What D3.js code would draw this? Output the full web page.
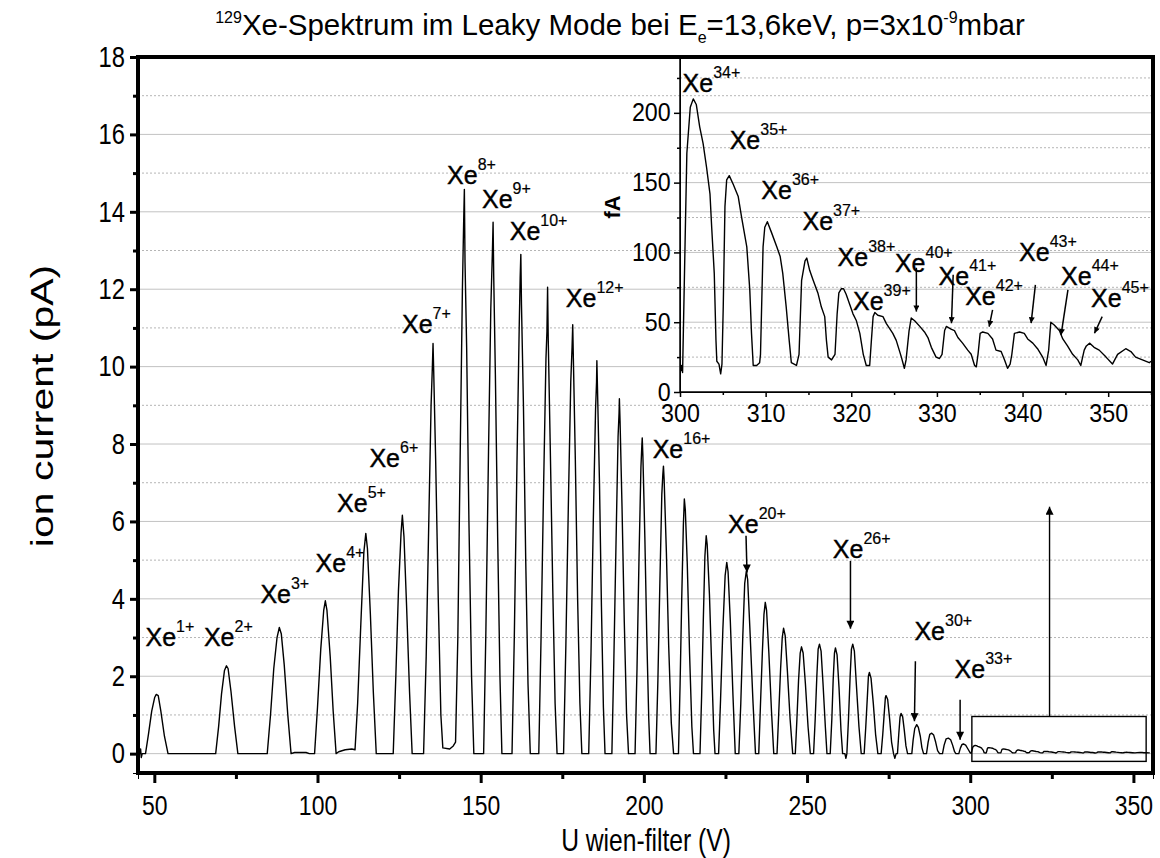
<!DOCTYPE html>
<html>
<head>
<meta charset="utf-8">
<script src="https://cdn.jsdelivr.net/npm/d3@7"></script>
<style>
body { margin: 0; background: #fff; }
text { font-family: Arial, "Liberation Sans", sans-serif; fill: #000; }
</style>
</head>
<body>
<svg width="1160" height="858"></svg>
<script>
// main spectrum, U (V) vs ion current (pA), 45..300 V
var mainSpectrum = [
  [45.0,0],[45.6,0],[45.8,0.12],[46.0,-0.1],[46.3,0],[47.3,0],
  [48.2,0.5],[49.2,1.1],[50.1,1.45],[50.6,1.53],[51.2,1.5],[52.0,1.1],[53.1,0.45],[54.2,0],
  [68.8,0],[69.7,0.7],[70.6,1.55],[71.5,2.15],[72.1,2.27],[72.6,2.2],[73.5,1.6],[74.6,0.7],[75.6,0],
  [84.6,0],[85.6,1.0],[86.6,2.2],[87.6,3.0],[88.3,3.26],[88.9,3.1],[89.8,2.3],[90.9,1.0],[91.9,0],
  [93.0,0.03],[96.5,0.03],[97.5,0],
  [99.1,0],[100.0,1.2],[101.0,2.7],[101.9,3.7],[102.4,3.95],[102.9,3.7],[103.9,2.5],[104.8,1.1],[105.7,0],
  [106.5,0.05],[108.5,0.1],[110.5,0.12],[111.5,0.1],
  [112.3,1.3],[113.3,3.4],[114.2,5.2],[114.8,5.69],[115.3,5.3],[116.2,3.6],[117.1,1.6],[118.0,0],
  [123.2,0],[124.0,2.0],[124.8,4.2],[125.6,5.7],[126.0,6.16],[126.5,5.6],[127.3,3.8],[128.2,1.6],[129.0,0],
  [132.5,0],[133.3,2.5],[134.1,6.0],[134.8,9.0],[135.2,10.0],[135.4,10.6],[135.6,9.9],[136.2,7.6],[137.0,4.0],[137.8,1.0],[138.4,0.15],[140.5,0.12],[141.6,0.2],
  [142.3,0.3],[143.0,3.0],[143.7,7.6],[144.4,12.0],[144.8,13.8],[145.0,14.58],[145.2,12.7],[145.7,10.5],[146.4,6.0],[147.2,2.0],[147.9,0],
  [150.6,0],[150.9,0],[151.6,3.2],[152.4,7.8],[153.1,11.5],[153.6,13.0],[153.8,13.73],[154.0,12.3],[154.5,9.8],[155.2,5.6],[155.9,2.0],[156.5,0],
  [159.3,0],[159.6,0],[160.3,3.0],[161.1,7.4],[161.8,11.0],[162.1,12.3],[162.3,12.9],[162.5,11.6],[163.1,9.0],[163.8,5.0],[164.5,1.8],[165.2,0],
  [167.5,0],[167.8,0],[168.5,3.0],[169.3,7.0],[170.0,10.2],[170.3,10.9],[170.5,12.05],[170.7,10.7],[171.3,8.0],[172.1,4.2],[172.8,1.3],[173.4,0],
  [175.2,0],[175.4,0],[176.1,2.8],[176.9,6.6],[177.6,9.6],[178.0,10.5],[178.2,11.08],[178.4,10.2],[179.0,7.6],[179.7,4.0],[180.4,1.3],[181.0,0],
  [182.8,0],[183.1,0],[183.8,2.6],[184.5,6.0],[185.2,8.9],[185.5,9.6],[185.6,10.15],[185.8,9.4],[186.4,7.0],[187.0,3.8],[187.6,1.2],[188.1,0],
  [189.9,0],[190.2,0],[190.8,2.4],[191.5,5.6],[192.1,8.2],[192.4,8.8],[192.5,9.17],[192.7,8.6],[193.3,6.4],[194.0,3.4],[194.7,1.0],[195.3,0],
  [197.0,0],[197.3,0],[197.9,2.2],[198.5,5.0],[199.1,7.4],[199.4,8.0],[199.5,8.16],[199.7,7.7],[200.3,5.6],[200.9,3.0],[201.5,0.9],[201.9,0],
  [203.4,0],[203.7,0],[204.3,1.9],[204.9,4.4],[205.5,6.7],[205.8,7.2],[206.0,7.43],[206.2,7.1],[206.9,5.2],[207.6,2.8],[208.4,0.8],[209.1,0],
  [210.3,0],[210.6,0],[211.1,1.8],[211.6,4.0],[212.1,5.9],[212.4,6.58],[212.7,6.3],[213.3,4.9],[214.0,2.6],[214.7,0.7],[215.2,0],
  [216.9,0],[217.2,0],[217.7,1.5],[218.2,3.4],[218.7,5.1],[219.1,5.63],[219.4,5.4],[220.1,4.1],[220.8,2.2],[221.4,0.6],[221.8,0],
  [222.6,0],[222.9,0],[223.5,1.4],[224.2,3.2],[224.9,4.6],[225.4,4.94],[225.8,4.7],[226.5,3.4],[227.3,1.5],[228.0,0],
  [228.8,0],[229.1,0],[229.7,1.3],[230.3,3.0],[230.9,4.4],[231.4,4.72],[231.8,4.5],[232.5,3.2],[233.4,1.4],[234.2,0],
  [234.9,0],[235.2,0],[235.7,1.2],[236.3,2.6],[236.8,3.6],[237.2,3.91],[237.6,3.7],[238.3,2.6],[239.1,1.1],[239.8,0],
  [240.5,0],[240.8,0],[241.3,1.0],[241.9,2.2],[242.4,3.0],[242.8,3.24],[243.3,3.05],[244.0,2.1],[244.8,0.9],[245.6,0],
  [246.1,0],[246.4,0],[246.9,0.9],[247.4,1.9],[247.9,2.6],[248.3,2.76],[248.8,2.6],[249.5,1.8],[250.3,0.7],[251.0,0],
  [251.7,0],[252.0,0],[252.5,0.9],[253.0,2.0],[253.4,2.7],[253.8,2.83],[254.3,2.65],[254.9,1.8],[255.6,0.7],[256.1,0],
  [256.8,0],[257.1,0],[257.6,0.9],[258.0,1.9],[258.4,2.6],[258.7,2.73],[259.2,2.55],[259.8,1.7],[260.4,0.6],[260.9,0],
  [261.6,0],[261.9,-0.12],[262.2,0],[262.7,0.9],[263.2,2.0],[263.6,2.7],[264.0,2.83],[264.5,2.65],[265.1,1.8],[265.9,0.7],[266.6,0],
  [267.2,0],[267.5,0],[268.0,0.7],[268.5,1.5],[268.8,2.0],[269.1,2.1],[269.6,1.95],[270.3,1.3],[271.0,0.5],[271.7,0],
  [272.4,0],[272.7,0],[273.2,0.5],[273.7,1.1],[274.0,1.45],[274.2,1.5],[274.7,1.4],[275.3,0.9],[275.9,0.3],[276.5,0],[276.9,-0.12],[277.3,0],
  [277.7,0],[278.1,0.5],[278.5,0.95],[278.8,1.04],[279.3,0.95],[279.8,0.6],[280.3,0.2],[280.8,0],
  [281.7,0],[282.1,0],[282.5,0.35],[283.0,0.65],[283.6,0.75],[284.1,0.68],[284.7,0.45],[285.2,0.15],[285.7,0],
  [286.3,0],[286.6,0],[287.1,0.3],[287.6,0.5],[288.2,0.53],[288.8,0.48],[289.4,0.3],[290.0,0.08],[290.6,0],
  [291.2,0],[291.5,0],[292.0,0.22],[292.6,0.38],[293.3,0.4],[294.0,0.36],[294.6,0.22],[295.2,0.05],[295.6,0],
  [296.2,0],[296.5,0],[297.0,0.15],[297.5,0.24],[297.9,0.25],[298.6,0.22],[299.3,0.12],[300.0,0.02]
];

// inset spectrum, U (V) vs current (fA), 300..355 V
var insetSpectrum = [
  [300.1,15],[300.2,19],[300.3,14],[300.6,109],[300.8,171],[301.2,204],[301.55,210],[301.9,206],[302.3,190],[302.7,178],
  [303.1,161],[303.5,142],[303.7,118],[304.0,85],[304.2,37],[304.3,22],[304.55,20],[304.75,13],[304.9,20],[305.05,61],
  [305.25,133],[305.45,152],[305.75,155],[306.2,149],[306.8,140],[307.2,125],[307.8,104],[308.15,73],[308.35,42],[308.55,19],
  [308.95,19],[309.3,21],[309.4,27],[309.7,104],[309.9,118],[310.2,122],[310.7,114],[311.3,104],[311.7,97],[312.0,85],
  [312.4,61],[312.75,37],[313.0,21],[313.6,19],[313.9,27],[314.2,80],[314.6,94],[314.8,96],[315.15,87],[315.55,80],
  [316.1,71],[316.5,61],[316.9,54],[317.1,37],[317.3,25],[317.7,23],[318.1,27],[318.35,56],[318.55,71],[318.85,74],
  [319.1,74],[319.4,70],[319.8,63],[320.2,56],[320.6,51],[321.0,42],[321.4,27],[321.75,19],[322.15,19],[322.35,37],
  [322.55,54],[322.75,57],[323.1,55],[323.7,54],[324.1,49],[324.85,42],[325.25,37],[325.85,25],[326.2,17],[326.4,23],
  [326.75,44],[327.0,53],[327.4,51],[328.0,47],[328.55,43],[328.95,39],[329.35,32],[329.9,25],[330.3,24],[330.6,27],
  [330.9,44],[331.1,47],[331.65,45],[332.05,44],[332.45,39],[333.0,35],[333.6,30],[334.0,27],[334.4,19],[334.6,18],
  [334.8,27],[335.05,42],[335.35,43],[335.95,42],[336.5,38],[336.9,30],[337.5,29],[337.9,23],[338.25,17],[338.55,20],
  [338.75,27],[339.05,42],[339.65,43],[340.2,42],[340.6,38],[341.2,35],[341.75,31],[342.35,25],[342.75,19],[343.05,30],
  [343.3,50],[343.7,48],[344.3,44],[344.7,38],[345.25,33],[345.85,27],[346.45,23],[346.8,19],[347.2,30],[347.45,33],
  [347.85,35],[348.35,32],[348.95,30],[349.75,25],[350.5,20],[351.1,27],[352.05,31],[352.65,29],[353.2,25],[354.0,23],
  [354.8,21],[355.0,22]
];

var mainXTicks = [50, 100, 150, 200, 250, 300, 350],
    mainXMinor = [75, 125, 175, 225, 275, 325],
    mainYTicks = [0, 2, 4, 6, 8, 10, 12, 14, 16, 18],
    mainYMinor = [1, 3, 5, 7, 9, 11, 13, 15, 17],
    insetXTicks = [300, 310, 320, 330, 340, 350],
    insetXMinor = [305, 315, 325, 335, 345, 355],
    insetYTicks = [0, 50, 100, 150, 200],
    insetYMinor = [25, 75, 125, 175, 225];

// peak labels: charge state, U, current where the label sits
var mainLabels = [
  ["1+",47.3,2.79],["2+",65.2,2.79],["3+",82.5,3.89],["4+",99.4,4.69],["5+",106.0,6.24],
  ["6+",115.9,7.40],["7+",125.9,10.86],["8+",139.7,14.71],["9+",150.4,14.11],["10+",158.9,13.26],
  ["12+",176.1,11.54],["16+",202.7,7.63],["20+",225.8,5.71],["26+",257.9,5.05],["30+",282.9,2.94],["33+",295.2,1.95]
];
var insetLabels = [
  ["34+",300.3,215],["35+",305.8,174],["36+",309.5,138],["37+",314.3,116],["38+",318.4,90],["39+",320.2,59],
  ["40+",325.1,86],["41+",330.2,77],["42+",333.3,62],["43+",339.6,93.5],["44+",344.5,77],["45+",348.0,61]
];
// arrows: U start, I start, U end, I end
var mainArrows = [[231.3,5.63,231.6,4.68],[263.3,4.98,263.3,3.23],[283.2,2.39,282.9,0.84],[296.9,1.39,296.9,0.36]];
var insetArrows = [
  [327.6,89,327.6,57.6],[331.9,84,331.7,49.3],[336.5,58.8,336.1,46.8],
  [341.5,76.8,341.0,49.3],[345.3,73.2,344.5,40.9],[349.3,54,348.4,42.1]
];
var zoomBox = {u0: 300.5, u1: 353.9, i0: -0.2, i1: 0.96},
    zoomArrow = {u: 324.3, i0: 0.96, i1: 6.38};

var svg = d3.select("svg"),
    mL = 138, mR = 1153, mT = 57, mB = 773;

var x = d3.scaleLinear().domain([45, 356]).range([mL, mR]),
    y = d3.scaleLinear().domain([-0.5, 18]).range([mB, mT]),
    ix = d3.scaleLinear().domain([300, 355]).range([680, 1151]),
    iy = d3.scaleLinear().domain([0, 240]).range([392, mT]);

var defs = svg.append("defs");
function marker(id, len, wid) {
  defs.append("marker").attr("id", id)
    .attr("viewBox", "0 0 10 10").attr("refX", 10).attr("refY", 5)
    .attr("markerUnits", "userSpaceOnUse")
    .attr("markerWidth", len).attr("markerHeight", wid)
    .attr("orient", "auto")
    .append("path").attr("d", "M0,0L10,5L0,10z").attr("fill", "#000");
}
marker("headBig", 13, 8);
marker("headSmall", 9, 6);

function grid(vals, sc, x0, x1, dotted) {
  svg.append("g").selectAll("line").data(vals).enter().append("line")
    .attr("x1", x0).attr("x2", x1)
    .attr("y1", function(d) { return sc(d); })
    .attr("y2", function(d) { return sc(d); })
    .attr("stroke", dotted ? "#b5b5b5" : "#c2c2c2")
    .attr("stroke-width", 1)
    .attr("stroke-dasharray", dotted ? "2,2" : null);
}
grid(mainYTicks.slice(0, -1), y, mL, mR, false);
grid(mainYMinor, y, mL, mR, true);
grid(insetYTicks.slice(1), iy, ix(300), mR, false);
grid(insetYMinor, iy, ix(300), mR, true);

// main trace, continues past 300 V with the inset data in pA
var line = d3.line().x(function(d) { return x(d[0]); }).y(function(d) { return y(d[1]); });
var tail = insetSpectrum.map(function(d) { return [d[0], d[1] / 1000]; });
svg.append("path").datum(mainSpectrum.concat(tail))
  .attr("d", line).attr("fill", "none").attr("stroke", "#000")
  .attr("stroke-width", 1.4).attr("stroke-linejoin", "round");

var iline = d3.line().x(function(d) { return ix(d[0]); }).y(function(d) { return iy(d[1]); });
svg.append("path").datum(insetSpectrum)
  .attr("d", iline).attr("fill", "none").attr("stroke", "#000")
  .attr("stroke-width", 1.4).attr("stroke-linejoin", "round");

// axes; tick text is a bit narrow in the original, hence the x-scale
function styleAxis(g, w, fs, sx) {
  g.select(".domain").remove();
  g.selectAll(".tick line").attr("stroke", "#000").attr("stroke-width", w);
  g.selectAll(".tick text").attr("font-size", fs)
    .attr("font-family", "Arial, 'Liberation Sans', sans-serif")
    .attr("transform", "scale(" + sx + ",1)");
}
var gx = svg.append("g").attr("transform", "translate(0," + mB + ")");
gx.call(d3.axisBottom(x).tickValues(mainXTicks).tickSize(10).tickPadding(12));
gx.append("g").call(d3.axisBottom(x).tickValues(mainXMinor).tickSize(6).tickFormat(""));
styleAxis(gx, 3, 28, 0.82);

var gy = svg.append("g").attr("transform", "translate(" + mL + ",0)");
gy.call(d3.axisLeft(y).tickValues(mainYTicks).tickSize(8).tickPadding(8));
gy.append("g").call(d3.axisLeft(y).tickValues(mainYMinor).tickSize(5).tickFormat(""));
styleAxis(gy, 3, 29, 0.82);

var igx = svg.append("g").attr("transform", "translate(0," + iy(0) + ")");
igx.call(d3.axisBottom(ix).tickValues(insetXTicks).tickSize(5).tickPadding(7));
igx.append("g").call(d3.axisBottom(ix).tickValues(insetXMinor).tickSize(3).tickFormat(""));
styleAxis(igx, 1.5, 25, 0.93);

var igy = svg.append("g").attr("transform", "translate(" + ix(300) + ",0)");
igy.call(d3.axisLeft(iy).tickValues(insetYTicks).tickSize(6).tickPadding(4));
igy.append("g").call(d3.axisLeft(iy).tickValues(insetYMinor).tickSize(3).tickFormat(""));
styleAxis(igy, 1.5, 25, 0.93);

svg.append("line").attr("x1", ix(300)).attr("x2", ix(300)).attr("y1", mT).attr("y2", iy(0))
  .attr("stroke", "#000").attr("stroke-width", 1.5);
svg.append("line").attr("x1", ix(300)).attr("x2", mR).attr("y1", iy(0)).attr("y2", iy(0))
  .attr("stroke", "#000").attr("stroke-width", 1.5);

// frame
svg.append("rect").attr("x", mL).attr("y", mT)
  .attr("width", mR - mL).attr("height", mB - mT)
  .attr("fill", "none").attr("stroke", "#000").attr("stroke-width", 4);

// zoom box and arrow
svg.append("rect")
  .attr("x", x(zoomBox.u0)).attr("y", y(zoomBox.i1))
  .attr("width", x(zoomBox.u1) - x(zoomBox.u0)).attr("height", y(zoomBox.i0) - y(zoomBox.i1))
  .attr("fill", "none").attr("stroke", "#000").attr("stroke-width", 1.4);
svg.append("line")
  .attr("x1", x(zoomArrow.u)).attr("x2", x(zoomArrow.u))
  .attr("y1", y(zoomArrow.i0)).attr("y2", y(zoomArrow.i1))
  .attr("stroke", "#000").attr("stroke-width", 1.4).attr("marker-end", "url(#headBig)");

function arrows(data, xs, ys, head) {
  svg.append("g").selectAll("line").data(data).enter().append("line")
    .attr("x1", function(d) { return xs(d[0]); }).attr("y1", function(d) { return ys(d[1]); })
    .attr("x2", function(d) { return xs(d[2]); }).attr("y2", function(d) { return ys(d[3]); })
    .attr("stroke", "#000").attr("stroke-width", 1.5).attr("marker-end", "url(#" + head + ")");
}
arrows(mainArrows, x, y, "headBig");
arrows(insetArrows, ix, iy, "headSmall");

function labels(data, xs, ys) {
  var t = svg.append("g").selectAll("text").data(data).enter().append("text")
    .attr("x", function(d) { return xs(d[1]); })
    .attr("y", function(d) { return ys(d[2]); })
    .attr("font-size", 25)
    .attr("stroke", "#000").attr("stroke-width", 0.4);
  t.append("tspan").text("Xe");
  t.append("tspan").attr("font-size", 16).attr("stroke-width", 0.2)
    .attr("dy", -14).text(function(d) { return d[0]; });
}
labels(mainLabels, x, y);
labels(insetLabels, ix, iy);

// titles
var title = svg.append("text").attr("text-anchor", "middle")
  .attr("x", 620).attr("y", 35).attr("font-size", 29.5);
title.append("tspan").attr("font-size", 16).attr("dy", -12).text("129");
title.append("tspan").attr("dy", 12).text("Xe-Spektrum im Leaky Mode bei E");
title.append("tspan").attr("font-size", 16).attr("dy", 8).text("e");
title.append("tspan").attr("dy", -8).text("=13,6keV, p=3x10");
title.append("tspan").attr("font-size", 16).attr("dy", -12).text("-9");
title.append("tspan").attr("dy", 12).text("mbar");

svg.append("text").attr("text-anchor", "middle")
  .attr("transform", "translate(646,851) scale(0.77,1)")
  .attr("font-size", 32)
  .text("U wien-filter (V)");

svg.append("text").attr("text-anchor", "middle")
  .attr("transform", "translate(53,406) rotate(-90) scale(1.28,1)")
  .attr("font-size", 32)
  .text("ion current (pA)");

svg.append("text").attr("text-anchor", "middle")
  .attr("transform", "translate(620,207) rotate(-90)")
  .attr("font-size", 22).attr("font-weight", "bold")
  .text("fA");
</script>
</body>
</html>
